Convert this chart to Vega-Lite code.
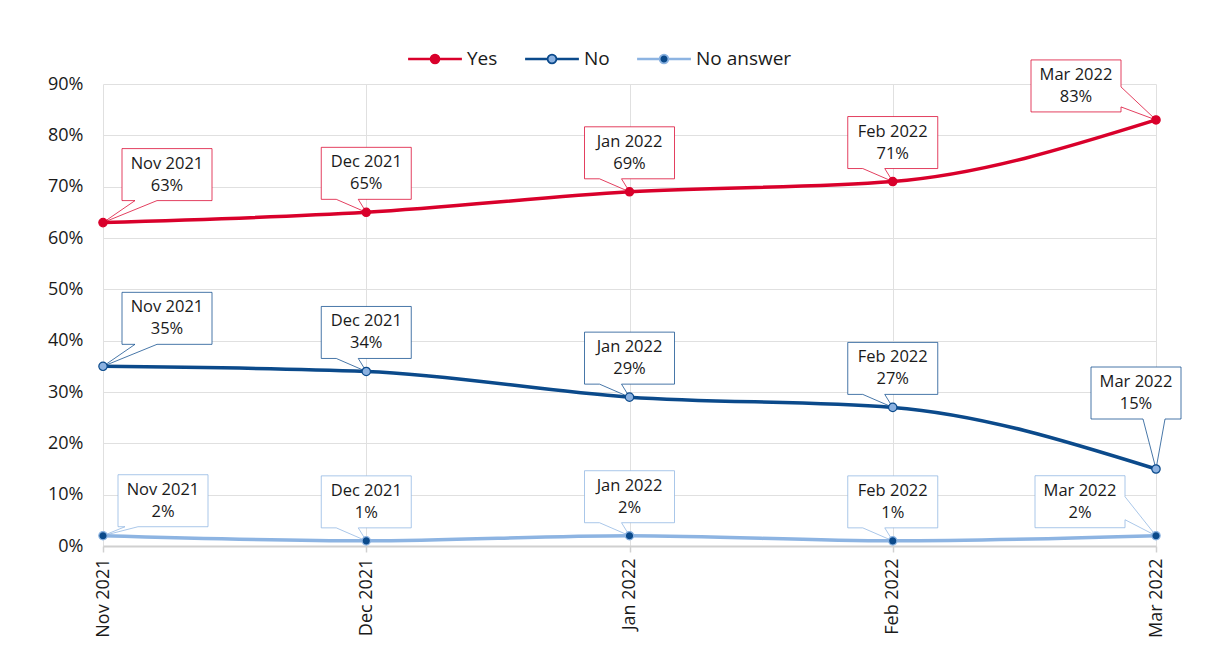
{
  "$schema": "https://vega.github.io/schema/vega-lite/v6.json",
  "autosize": {"type": "none"},
  "width": 1053,
  "height": 462,
  "padding": {"left": 103, "top": 84, "right": 52, "bottom": 125},
  "background": "white",
  "config": {
    "font": "Open Sans",
    "view": {"stroke": null},
    "axis": {"labelColor": "#1a1a1a", "title": null, "gridColor": "#E0E0E0", "gridWidth": 1},
    "legend": {
      "title": null, "orient": "none", "direction": "horizontal",
      "legendX": 305, "legendY": -52,
      "symbolType": "M-1,-0.015H-0.17V0.015H-1Z M0.17,-0.015H1V0.015H0.17Z M-0.17,0A0.17,0.17,0,1,1,0.17,0A0.17,0.17,0,1,1,-0.17,0Z",
      "symbolSize": 2704, "symbolStrokeWidth": 1.8, "symbolOpacity": 1,
      "labelFontSize": 19, "labelColor": "#1a1a1a", "labelOffset": 5, "columnPadding": 24
    }
  },
  "data": {
    "values": [
      {"month": "Nov 2021", "series": "Yes", "value": 0.63},
      {"month": "Dec 2021", "series": "Yes", "value": 0.65},
      {"month": "Jan 2022", "series": "Yes", "value": 0.69},
      {"month": "Feb 2022", "series": "Yes", "value": 0.71},
      {"month": "Mar 2022", "series": "Yes", "value": 0.83},
      {"month": "Nov 2021", "series": "No", "value": 0.35},
      {"month": "Dec 2021", "series": "No", "value": 0.34},
      {"month": "Jan 2022", "series": "No", "value": 0.29},
      {"month": "Feb 2022", "series": "No", "value": 0.27},
      {"month": "Mar 2022", "series": "No", "value": 0.15},
      {"month": "Nov 2021", "series": "No answer", "value": 0.02},
      {"month": "Dec 2021", "series": "No answer", "value": 0.01},
      {"month": "Jan 2022", "series": "No answer", "value": 0.02},
      {"month": "Feb 2022", "series": "No answer", "value": 0.01},
      {"month": "Mar 2022", "series": "No answer", "value": 0.02}
    ]
  },
  "transform": [
    {"calculate": "datum.month + '\\n' + format(datum.value, '.0%')", "as": "label"}
  ],
  "encoding": {
    "x": {
      "field": "month", "type": "ordinal",
      "sort": ["Nov 2021", "Dec 2021", "Jan 2022", "Feb 2022", "Mar 2022"],
      "scale": {"type": "point", "padding": 0},
      "axis": {
        "labelAngle": -90, "labelFontSize": 18, "labelPadding": 6,
        "domainColor": "#D0D0D0", "domainWidth": 2,
        "tickColor": "#D0D0D0", "tickSize": 6, "tickWidth": 1.5,
        "grid": true
      }
    },
    "y": {
      "field": "value", "type": "quantitative",
      "scale": {"domain": [0, 0.9], "nice": false},
      "axis": {
        "values": [0, 0.1, 0.2, 0.3, 0.4, 0.5, 0.6, 0.7, 0.8, 0.9],
        "format": ".0%", "labelFontSize": 18, "labelPadding": 20,
        "domain": false, "ticks": false, "grid": true
      }
    }
  },
  "layer": [
    {
      "transform": [{"filter": "datum.month != 'Nov 2021' && datum.month != 'Mar 2022'"}],
      "mark": {"type": "point", "shape": "M-45,-65H45V-13H-8L0,0L-30,-13H-45Z", "size": 4, "filled": false, "fill": "white", "fillOpacity": 1, "strokeWidth": 1, "strokeOpacity": 0.75, "opacity": 1},
      "encoding": {"stroke": {"field": "series", "type": "nominal"}}
    },
    {
      "transform": [{"filter": "datum.month == 'Nov 2021' && datum.series != 'No answer'"}],
      "mark": {"type": "point", "shape": "M19,-74H109V-22H54L0,0L32,-22H19Z", "size": 4, "filled": false, "fill": "white", "fillOpacity": 1, "strokeWidth": 1, "strokeOpacity": 0.75, "opacity": 1},
      "encoding": {"stroke": {"field": "series", "type": "nominal"}}
    },
    {
      "transform": [{"filter": "datum.month == 'Nov 2021' && datum.series == 'No answer'"}],
      "mark": {"type": "point", "shape": "M15,-61H105V-9H35L0,0L22,-9H15Z", "size": 4, "filled": false, "fill": "white", "fillOpacity": 1, "strokeWidth": 1, "strokeOpacity": 0.75, "opacity": 1},
      "encoding": {"stroke": {"field": "series", "type": "nominal"}}
    },
    {
      "transform": [{"filter": "datum.month == 'Mar 2022' && datum.series == 'Yes'"}],
      "mark": {"type": "point", "shape": "M-125,-60H-35V-33L0,0L-35,-13V-8H-125Z", "size": 4, "filled": false, "fill": "white", "fillOpacity": 1, "strokeWidth": 1, "strokeOpacity": 0.75, "opacity": 1},
      "encoding": {"stroke": {"field": "series", "type": "nominal"}}
    },
    {
      "transform": [{"filter": "datum.month == 'Mar 2022' && datum.series == 'No'"}],
      "mark": {"type": "point", "shape": "M-65,-102H25V-50H9L0,0L-13,-50H-65Z", "size": 4, "filled": false, "fill": "white", "fillOpacity": 1, "strokeWidth": 1, "strokeOpacity": 0.75, "opacity": 1},
      "encoding": {"stroke": {"field": "series", "type": "nominal"}}
    },
    {
      "transform": [{"filter": "datum.month == 'Mar 2022' && datum.series == 'No answer'"}],
      "mark": {"type": "point", "shape": "M-121,-60H-31V-39L0,0L-31,-16V-8H-121Z", "size": 4, "filled": false, "fill": "white", "fillOpacity": 1, "strokeWidth": 1, "strokeOpacity": 0.75, "opacity": 1},
      "encoding": {"stroke": {"field": "series", "type": "nominal"}}
    },
    {
      "mark": {"type": "line", "interpolate": "monotone", "strokeWidth": 3.5},
      "encoding": {
        "stroke": {
          "field": "series", "type": "nominal",
          "scale": {"domain": ["Yes", "No", "No answer"], "range": ["#D9002B", "#0B4A8B", "#8DB4E2"]}
        }
      }
    },
    {
      "mark": {"type": "point", "filled": true, "size": 70, "strokeWidth": 1.2, "opacity": 1, "shape": "circle"},
      "encoding": {
        "fill": {
          "field": "series", "type": "nominal",
          "scale": {"domain": ["Yes", "No", "No answer"], "range": ["#D9002B", "#8BB1E0", "#0B4A8B"]}
        },
        "stroke": {"field": "series", "type": "nominal"}
      }
    },
    {
      "transform": [{"filter": "datum.month != 'Nov 2021' && datum.month != 'Mar 2022'"}],
      "mark": {"type": "text", "dy": -50, "fontSize": 16.5, "lineBreak": "\n", "lineHeight": 22, "align": "center", "baseline": "middle", "color": "#1a1a1a"},
      "encoding": {"text": {"field": "label"}}
    },
    {
      "transform": [{"filter": "datum.month == 'Nov 2021' && datum.series != 'No answer'"}],
      "mark": {"type": "text", "dx": 64, "dy": -59, "fontSize": 16.5, "lineBreak": "\n", "lineHeight": 22, "align": "center", "baseline": "middle", "color": "#1a1a1a"},
      "encoding": {"text": {"field": "label"}}
    },
    {
      "transform": [{"filter": "datum.month == 'Nov 2021' && datum.series == 'No answer'"}],
      "mark": {"type": "text", "dx": 60, "dy": -46, "fontSize": 16.5, "lineBreak": "\n", "lineHeight": 22, "align": "center", "baseline": "middle", "color": "#1a1a1a"},
      "encoding": {"text": {"field": "label"}}
    },
    {
      "transform": [{"filter": "datum.month == 'Mar 2022' && datum.series == 'Yes'"}],
      "mark": {"type": "text", "dx": -80, "dy": -45, "fontSize": 16.5, "lineBreak": "\n", "lineHeight": 22, "align": "center", "baseline": "middle", "color": "#1a1a1a"},
      "encoding": {"text": {"field": "label"}}
    },
    {
      "transform": [{"filter": "datum.month == 'Mar 2022' && datum.series == 'No'"}],
      "mark": {"type": "text", "dx": -20, "dy": -87, "fontSize": 16.5, "lineBreak": "\n", "lineHeight": 22, "align": "center", "baseline": "middle", "color": "#1a1a1a"},
      "encoding": {"text": {"field": "label"}}
    },
    {
      "transform": [{"filter": "datum.month == 'Mar 2022' && datum.series == 'No answer'"}],
      "mark": {"type": "text", "dx": -76, "dy": -45, "fontSize": 16.5, "lineBreak": "\n", "lineHeight": 22, "align": "center", "baseline": "middle", "color": "#1a1a1a"},
      "encoding": {"text": {"field": "label"}}
    }
  ]
}
